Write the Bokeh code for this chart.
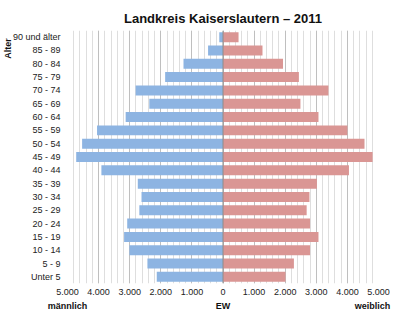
from bokeh.plotting import figure
from bokeh.models import (Range1d, FixedTicker, CustomJSTickFormatter,
                          Span, ColumnDataSource, LinearAxis)
from bokeh.embed import file_html
from bokeh.resources import INLINE

# Age groups, top to bottom
ages = ["90 und älter", "85 - 89", "80 - 84", "75 - 79", "70 - 74", "65 - 69",
        "60 - 64", "55 - 59", "50 - 54", "45 - 49", "40 - 44", "35 - 39",
        "30 - 34", "25 - 29", "20 - 24", "15 - 19", "10 - 14", "5 - 9", "Unter 5"]
maennlich = [120, 480, 1270, 1860, 2810, 2370, 3130, 4050, 4530, 4720, 3910,
             2740, 2620, 2690, 3080, 3180, 3010, 2430, 2130]
weiblich = [500, 1270, 1930, 2440, 3390, 2490, 3070, 4000, 4550, 4810, 4050,
            3020, 2780, 2690, 2800, 3070, 2800, 2280, 2010]
x_ticks = [-5000, -4000, -3000, -2000, -1000, 0, 1000, 2000, 3000, 4000, 5000]
minor_ticks = list(range(-5000, 5001, 200))
bottom_label_pos = [-5000, 0, 4810]
bottom_labels = ["männlich", "EW", "weiblich"]
y_title = "Alter"

FONT = "Liberation Sans"
FS = "9px"

n = len(ages)
ypos = [n - 1 - i for i in range(n)]   # top row highest

src = ColumnDataSource(dict(
    y=ypos,
    m_left=[-v for v in maennlich],
    zero=[0] * n,
    w_right=weiblich,
))

p = figure(width=400, height=321, output_backend="svg", toolbar_location=None,
           y_range=Range1d(-0.5, n - 0.5),
           x_range=Range1d(-5000, 5000),
           min_border_left=64, min_border_right=22, min_border_top=30,
           min_border_bottom=38)
p.outline_line_color = None
p.background_fill_color = "white"
p.border_fill_color = "white"

p.title.text = "Landkreis Kaiserslautern – 2011"
p.title.align = "center"
p.title.text_font = FONT
p.title.text_font_style = "bold"
p.title.text_font_size = "13px"
p.title.text_color = "#111111"

p.hbar(y="y", left="m_left", right="zero", height=0.75, source=src,
       fill_color="#8DB4E2", line_color=None)
p.hbar(y="y", left="zero", right="w_right", height=0.75, source=src,
       fill_color="#DA9694", line_color=None)

p.add_layout(Span(location=0, dimension="height", line_color="#8c8c8c",
                  line_width=1))

# x axis
p.xaxis.ticker = FixedTicker(ticks=x_ticks, minor_ticks=minor_ticks)
p.xaxis.formatter = CustomJSTickFormatter(code="""
var a = Math.abs(tick);
if (a == 0) return '0';
return (a/1000) + '.000';
""")
p.xaxis.axis_line_color = None
p.xaxis.major_tick_line_color = None
p.xaxis.minor_tick_line_color = None
p.xaxis.major_tick_out = 0
p.xaxis.minor_tick_out = 0
p.xaxis.major_label_text_font = FONT
p.xaxis.major_label_text_font_size = FS
p.xaxis.major_label_text_color = "#222222"
p.xaxis.major_label_standoff = 5

# second axis below carrying the side labels
ax2 = LinearAxis(ticker=FixedTicker(ticks=bottom_label_pos),
                 major_label_overrides={int(k): t for k, t in zip(bottom_label_pos, bottom_labels)},
                 axis_line_color=None, major_tick_line_color=None,
                 minor_tick_line_color=None, major_tick_out=0, minor_tick_out=0,
                 major_label_text_font=FONT, major_label_text_font_style="bold",
                 major_label_text_font_size=FS, major_label_text_color="#111111",
                 major_label_standoff=3)
p.add_layout(ax2, "below")

# y axis with age group names
p.yaxis.ticker = FixedTicker(ticks=ypos, minor_ticks=[])
p.yaxis.major_label_overrides = {y: a for y, a in zip(ypos, ages)}
p.yaxis.axis_line_color = None
p.yaxis.major_tick_line_color = None
p.yaxis.minor_tick_line_color = None
p.yaxis.major_tick_out = 0
p.yaxis.minor_tick_out = 0
p.yaxis.major_label_text_font = FONT
p.yaxis.major_label_text_font_size = FS
p.yaxis.major_label_text_color = "#222222"
p.yaxis.major_label_standoff = 7

# extra left axis carrying the vertical "Alter" title
p.extra_y_ranges = {"alter": Range1d(0, 1)}
ay2 = LinearAxis(y_range_name="alter", ticker=FixedTicker(ticks=[0.929], minor_ticks=[]),
                 major_label_overrides={0.929: y_title},
                 major_label_orientation="vertical",
                 axis_line_color=None, major_tick_line_color=None,
                 minor_tick_line_color=None, major_tick_out=0, minor_tick_out=0,
                 major_label_text_font=FONT, major_label_text_font_style="bold",
                 major_label_text_font_size=FS, major_label_text_color="#111111",
                 major_label_standoff=-4)
p.add_layout(ay2, "left")

# grids
p.ygrid.grid_line_color = None
p.xgrid.grid_line_color = "#bfbfbf"
p.xgrid.minor_grid_line_color = "#dedede"

open("out.html", "w").write(file_html(p, INLINE))
